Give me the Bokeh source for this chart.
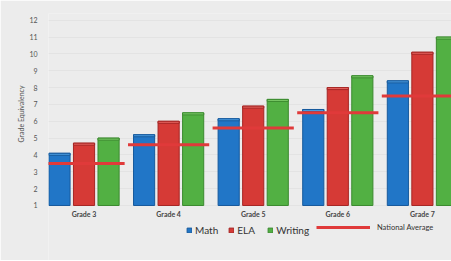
import numpy as np
from bokeh.plotting import figure
from bokeh.models import Range1d, FixedTicker, Legend, LegendItem, ColumnDataSource, Title
from bokeh.transform import dodge
from bokeh.core.properties import value
from bokeh.embed import file_html
from bokeh.resources import INLINE

grades = ["Grade 3", "Grade 4", "Grade 5", "Grade 6", "Grade 7"]
math = [4.1, 5.2, 6.15, 6.7, 8.4]
ela = [4.7, 6.0, 6.9, 8.0, 10.1]
writing = [5.0, 6.5, 7.3, 8.7, 11.0]
national = [3.5, 4.6, 5.6, 6.5, 7.5]
y_ticks = list(range(1, 13))

BASE = 1.0  # value axis starts at 1
CAP = 0.12  # depth of the lighter 3-D top face

x = np.arange(len(grades))
src = ColumnDataSource(dict(
    x=x, math=math, ela=ela, writing=writing, nat=national,
    math_c=np.array(math) - CAP, ela_c=np.array(ela) - CAP,
    wri_c=np.array(writing) - CAP,
    x0=x - 0.48, x1=x + 0.48,
    label=grades, label_y=[BASE - 0.5] * len(grades)))

BG = "#ececec"
FONT = "Lato"

# frame extends below the baseline so the grade labels and legend can sit inside it
p = figure(width=451, height=260, output_backend="svg", toolbar_location=None,
           x_range=Range1d(-0.42, 4.344), y_range=Range1d(BASE - 3.266, 12.4),
           min_border_left=48, min_border_right=0, min_border_top=13,
           min_border_bottom=0, background_fill_color=BG,
           border_fill_color=BG, outline_line_color=None)

bw = 0.25
specs = [("math", "math_c", -0.29, "#2176c7", "#175a9c", "#4a9be0"),
         ("ela", "ela_c", 0.0, "#d63a36", "#a52624", "#e86460"),
         ("writing", "wri_c", 0.29, "#52b043", "#3b8a2f", "#7ccc68")]
bars = []
for top, cap, off, fill, line, light in specs:
    r = p.vbar(x=dodge("x", off), top=top, bottom=BASE, width=bw, source=src,
               fill_color=fill, line_color=line, line_width=1)
    p.vbar(x=dodge("x", off), top=top, bottom=cap, width=bw, source=src,
           fill_color=light, line_color=line, line_width=1)
    bars.append(r)
r_math, r_ela, r_wri = bars

r_nat = p.segment(x0="x0", x1="x1", y0="nat", y1="nat", source=src,
                  line_color="#e03a3a", line_width=3)

# category labels under the groups
p.text(x="x", y="label_y", text="label", source=src, text_align="center",
       text_baseline="middle", text_font=value(FONT),
       text_font_size="7px", text_font_style="bold", text_color="#444444")

p.xaxis.visible = False

p.yaxis.ticker = FixedTicker(ticks=y_ticks)
p.yaxis.major_label_text_font = FONT
p.yaxis.major_label_text_font_size = "7px"
p.yaxis.major_label_text_color = "#555555"
p.yaxis.major_label_standoff = 5
p.yaxis.axis_line_color = None
p.yaxis.major_tick_line_color = None
p.yaxis.minor_tick_line_color = None

p.add_layout(Title(text="Grade Equivalency", align="right", offset=72,
                   text_font=FONT, text_font_style="normal",
                   text_font_size="7px", text_color="#555555", standoff=4), "left")

p.xgrid.grid_line_color = None
p.ygrid.grid_line_color = "#e3e3e3"

leg1 = Legend(items=[LegendItem(label="Math", renderers=[r_math]),
                     LegendItem(label="ELA", renderers=[r_ela]),
                     LegendItem(label="Writing", renderers=[r_wri])],
              orientation="horizontal", location=(138, 24),
              glyph_width=6, glyph_height=6, label_standoff=3, spacing=10,
              padding=0, margin=0, label_height=12,
              background_fill_alpha=0, border_line_alpha=0,
              label_text_font=FONT, label_text_font_size="10px",
              label_text_color="#333333")
leg2 = Legend(items=[LegendItem(label="National Average", renderers=[r_nat])],
              orientation="horizontal", location=(268, 27),
              glyph_width=54, glyph_height=8, label_standoff=7, spacing=0,
              padding=0, margin=0, label_height=12,
              background_fill_alpha=0, border_line_alpha=0,
              label_text_font=FONT, label_text_font_size="7.5px",
              label_text_color="#333333")
p.add_layout(leg1, "center")
p.add_layout(leg2, "center")

open("out.html", "w").write(file_html(p, INLINE))
